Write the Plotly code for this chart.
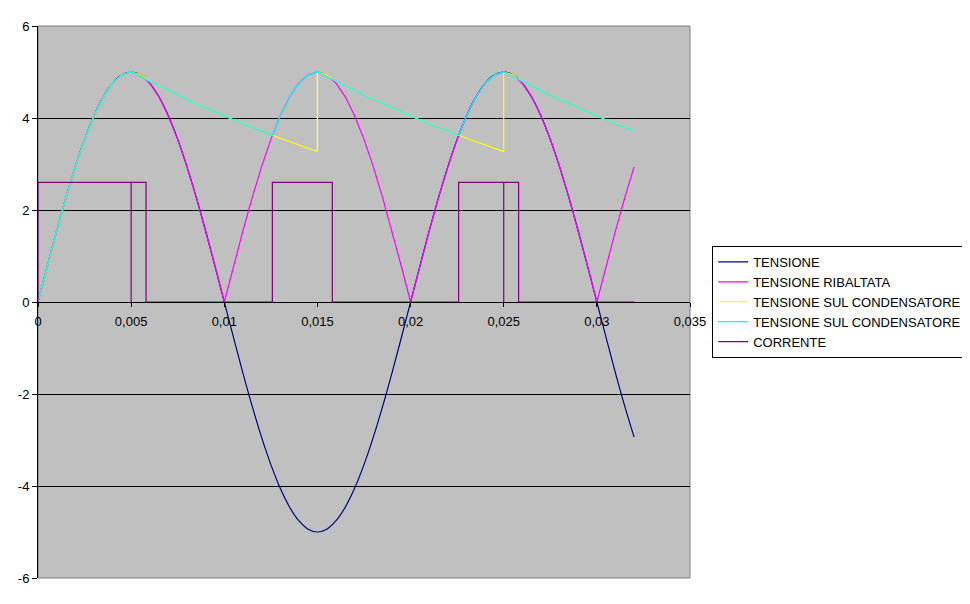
import plotly.graph_objects as go

# ---- data ----
t_grid = [round(i * 0.0005, 4) for i in range(65)]
tensione = [0, 0.782, 1.545, 2.270, 2.939, 3.536, 4.045, 4.455, 4.755, 4.938, 5.0,
            4.938, 4.755, 4.455, 4.045, 3.536, 2.939, 2.270, 1.545, 0.782, 0,
            -0.782, -1.545, -2.270, -2.939, -3.536, -4.045, -4.455, -4.755, -4.938, -5.0,
            -4.938, -4.755, -4.455, -4.045, -3.536, -2.939, -2.270, -1.545, -0.782, 0,
            0.782, 1.545, 2.270, 2.939, 3.536, 4.045, 4.455, 4.755, 4.938, 5.0,
            4.938, 4.755, 4.455, 4.045, 3.536, 2.939, 2.270, 1.545, 0.782, 0,
            -0.782, -1.545, -2.270, -2.939]
ribaltata = [0, 0.782, 1.545, 2.270, 2.939, 3.536, 4.045, 4.455, 4.755, 4.938, 5.0,
             4.938, 4.755, 4.455, 4.045, 3.536, 2.939, 2.270, 1.545, 0.782, 0,
             0.782, 1.545, 2.270, 2.939, 3.536, 4.045, 4.455, 4.755, 4.938, 5.0,
             4.938, 4.755, 4.455, 4.045, 3.536, 2.939, 2.270, 1.545, 0.782, 0,
             0.782, 1.545, 2.270, 2.939, 3.536, 4.045, 4.455, 4.755, 4.938, 5.0,
             4.938, 4.755, 4.455, 4.045, 3.536, 2.939, 2.270, 1.545, 0.782, 0,
             0.782, 1.545, 2.270, 2.939]

# capacitor voltage (yellow): recharge instantly at peaks
t_cond1 = [0, 0.0005, 0.001, 0.0015, 0.002, 0.0025, 0.003, 0.0035, 0.004, 0.0045, 0.005,
           0.0055, 0.0058, 0.006, 0.007, 0.008, 0.009, 0.010, 0.011, 0.012, 0.013, 0.014, 0.015,
           0.015, 0.0155, 0.0158, 0.016, 0.017, 0.018, 0.019, 0.020, 0.021, 0.022, 0.023, 0.024, 0.025,
           0.025, 0.0255, 0.0258, 0.026, 0.027, 0.028, 0.029, 0.030, 0.031, 0.032]
v_cond1 = [0, 0.782, 1.545, 2.270, 2.939, 3.536, 4.045, 4.455, 4.755, 4.938, 5.0,
           4.938, 4.843, 4.792, 4.593, 4.402, 4.219, 4.044, 3.875, 3.714, 3.560, 3.412, 3.270,
           5.0, 4.938, 4.843, 4.792, 4.593, 4.402, 4.219, 4.044, 3.875, 3.714, 3.560, 3.412, 3.270,
           5.0, 4.938, 4.843, 4.792, 4.593, 4.402, 4.219, 4.044, 3.875, 3.714]

# light vertical jump at 0.015
t_jump = [0.015, 0.015]
v_jump = [3.270, 5.0]

# capacitor voltage (cyan)
t_cond2 = [0, 0.0005, 0.001, 0.0015, 0.002, 0.0025, 0.003, 0.0035, 0.004, 0.0045, 0.005,
           0.006, 0.007, 0.008, 0.009, 0.010, 0.011, 0.012, 0.01258,
           0.013, 0.0135, 0.014, 0.0145, 0.015,
           0.016, 0.017, 0.018, 0.019, 0.020, 0.021, 0.022, 0.02258,
           0.023, 0.0235, 0.024, 0.0245, 0.025,
           0.026, 0.027, 0.028, 0.029, 0.030, 0.031, 0.032]
v_cond2 = [0, 0.782, 1.545, 2.270, 2.939, 3.536, 4.045, 4.455, 4.755, 4.938, 5.0,
           4.792, 4.593, 4.402, 4.219, 4.044, 3.875, 3.714, 3.625,
           4.045, 4.455, 4.755, 4.938, 5.0,
           4.792, 4.593, 4.402, 4.219, 4.044, 3.875, 3.714, 3.625,
           4.045, 4.455, 4.755, 4.938, 5.0,
           4.792, 4.593, 4.402, 4.219, 4.044, 3.875, 3.714]

# current pulses
t_corr = [0, 0, 0.005, 0.005, 0.005, 0.0058, 0.0058, 0.01258, 0.01258, 0.0158, 0.0158,
          0.02258, 0.02258, 0.025, 0.025, 0.025, 0.0258, 0.0258, 0.032]
i_corr = [0, 2.6, 2.6, 0, 2.6, 2.6, 0, 0, 2.6, 2.6, 0,
          0, 2.6, 2.6, 0, 2.6, 2.6, 0, 0]

x_ticks = [0, 0.005, 0.01, 0.015, 0.02, 0.025, 0.03, 0.035]
y_ticks = [-6, -4, -2, 0, 2, 4, 6]
y_ticktext = ["-6", "-4", "-2", "0", "2", "4", "6"]

FONT = "Liberation Sans, Arial, sans-serif"
LW = 1.2

fig = go.Figure()
fig.add_trace(go.Scatter(x=t_grid, y=tensione, mode="lines", name="TENSIONE",
                         line=dict(color="#000080", width=LW, shape="spline")))
fig.add_trace(go.Scatter(x=t_grid, y=ribaltata, mode="lines", name="TENSIONE RIBALTATA",
                         line=dict(color="#FF00FF", width=LW)))
fig.add_trace(go.Scatter(x=t_cond1, y=v_cond1, mode="lines", name="TENSIONE SUL CONDENSATORE",
                         line=dict(color="#FFFF00", width=LW)))
fig.add_trace(go.Scatter(x=t_jump, y=v_jump, mode="lines", showlegend=False,
                         line=dict(color="#F2F2EC", width=LW), hoverinfo="skip"))
fig.add_trace(go.Scatter(x=t_cond2, y=v_cond2, mode="lines", name="TENSIONE SUL CONDENSATORE",
                         line=dict(color="#00FFFF", width=LW)))
fig.add_trace(go.Scatter(x=t_corr, y=i_corr, mode="lines", name="CORRENTE",
                         line=dict(color="#800080", width=LW)))

# page body has an 8px default margin, so the figure is sized to 962x596
fig.update_layout(
    width=962, height=596,
    margin=dict(l=30, r=280, t=18, b=26, autoexpand=False),
    paper_bgcolor="white",
    plot_bgcolor="#C0C0C0",
    separators=",.",
    font=dict(family=FONT, size=13, color="black"),
    showlegend=True,
    legend=dict(x=1.034, xanchor="left", y=0.5, yanchor="middle",
                bordercolor="black", borderwidth=1, bgcolor="white",
                font=dict(family=FONT, size=13, color="black"),
                itemwidth=30, tracegroupgap=0),
    xaxis=dict(range=[0, 0.035], tickvals=x_ticks, showgrid=False, zeroline=False,
               showline=True, linecolor="black", linewidth=1,
               ticks="outside", ticklen=4, tickcolor="black", automargin=False,
               anchor="free", position=0.5, tickfont=dict(size=13),
               ticklabelstandoff=3),
    yaxis=dict(range=[-6, 6], tickvals=y_ticks, ticktext=y_ticktext,
               showgrid=True, gridcolor="black", gridwidth=1,
               zeroline=False, showline=True, linecolor="black", linewidth=1, automargin=False,
               ticks="outside", ticklen=5, tickcolor="black", tickfont=dict(size=13),
               layer="above traces"),
    shapes=[dict(type="rect", xref="paper", yref="paper", x0=0, x1=1, y0=0, y1=1,
                 line=dict(color="#808080", width=1), layer="below")],
)

fig.write_html("out.html")
